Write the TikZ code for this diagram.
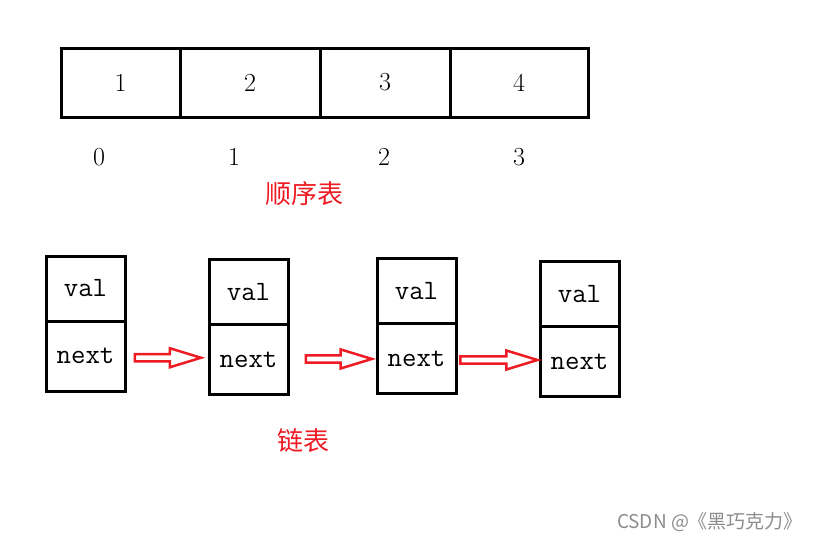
\documentclass[tikz,border=0pt]{standalone}
\usepackage{fontspec}
\newfontfamily\cjk{Noto Sans CJK SC}
\usetikzlibrary{positioning, shapes.arrows}
\definecolor{paintred}{RGB}{237,28,36}

\begin{document}
\begin{tikzpicture}[
  x=1pt, y=-1pt,
  arrcell/.style={draw, rectangle, line width=3pt, minimum height=69pt, inner sep=0pt, outer sep=0pt, font=\fontsize{26}{26}\selectfont},
  idxlabel/.style={font=\fontsize{26}{26}\selectfont},
  valcell/.style={draw, rectangle, line width=3pt, minimum width=79pt, minimum height=65pt, inner sep=0pt, outer sep=0pt, font=\ttfamily\fontsize{28}{28}\selectfont},
  nextcell/.style={valcell, minimum height=70pt},
  linkarrow/.style={single arrow, draw=paintred, line width=2.5pt, minimum height=66pt, minimum width=19pt, single arrow head extend=2pt, single arrow tip angle=34, inner sep=0pt, xshift=-5pt},
  caption/.style={text=paintred, font=\cjk\fontsize{26}{26}\selectfont},
  watermark/.style={text=black!45, font=\cjk\fontsize{19}{19}\selectfont}
]
\useasboundingbox (0,0) rectangle (814,542);

% Sequential list (array)
\node[arrcell, minimum width=119pt]              (a1) at (120.5,82.5) {1};
\node[arrcell, minimum width=140pt, right=0pt of a1] (a2) {2};
\node[arrcell, minimum width=130pt, right=0pt of a2] (a3) {3};
\node[arrcell, minimum width=138pt, right=0pt of a3] (a4) {4};

% Indices
\node[idxlabel] (i0) at (99,157)  {0};
\node[idxlabel] (i1) at (234,157) {1};
\node[idxlabel] (i2) at (384,157) {2};
\node[idxlabel] (i3) at (519,157) {3};

\node[caption] (seqname) at (304,194) {顺序表};

% Linked list nodes
\node[valcell]                    (v1) at (85.5,288.5) {val};
\node[nextcell, below=0pt of v1]  (n1) {next};
\node[valcell]                    (v2) at (248.5,292) {val};
\node[nextcell, below=0pt of v2]  (n2) {next};
\node[valcell]                    (v3) at (416.5,291) {val};
\node[nextcell, below=0pt of v3]  (n3) {next};
\node[valcell]                    (v4) at (579.5,294) {val};
\node[nextcell, below=0pt of v4]  (n4) {next};

% Links
\path (n1.east) -- (n2.west) node[linkarrow, midway]  (l1) {};
\path (n2.east) -- (n3.west) node[linkarrow, pos=0.56] (l2) {};
\path (n3.east) -- (n4.west) node[linkarrow, midway, minimum height=77pt] (l3) {};

\node[caption] (linkname) at (303,441) {链表};

\node[watermark] (mark) at (710,522) {CSDN @《黑巧克力》};
\end{tikzpicture}
\end{document}
